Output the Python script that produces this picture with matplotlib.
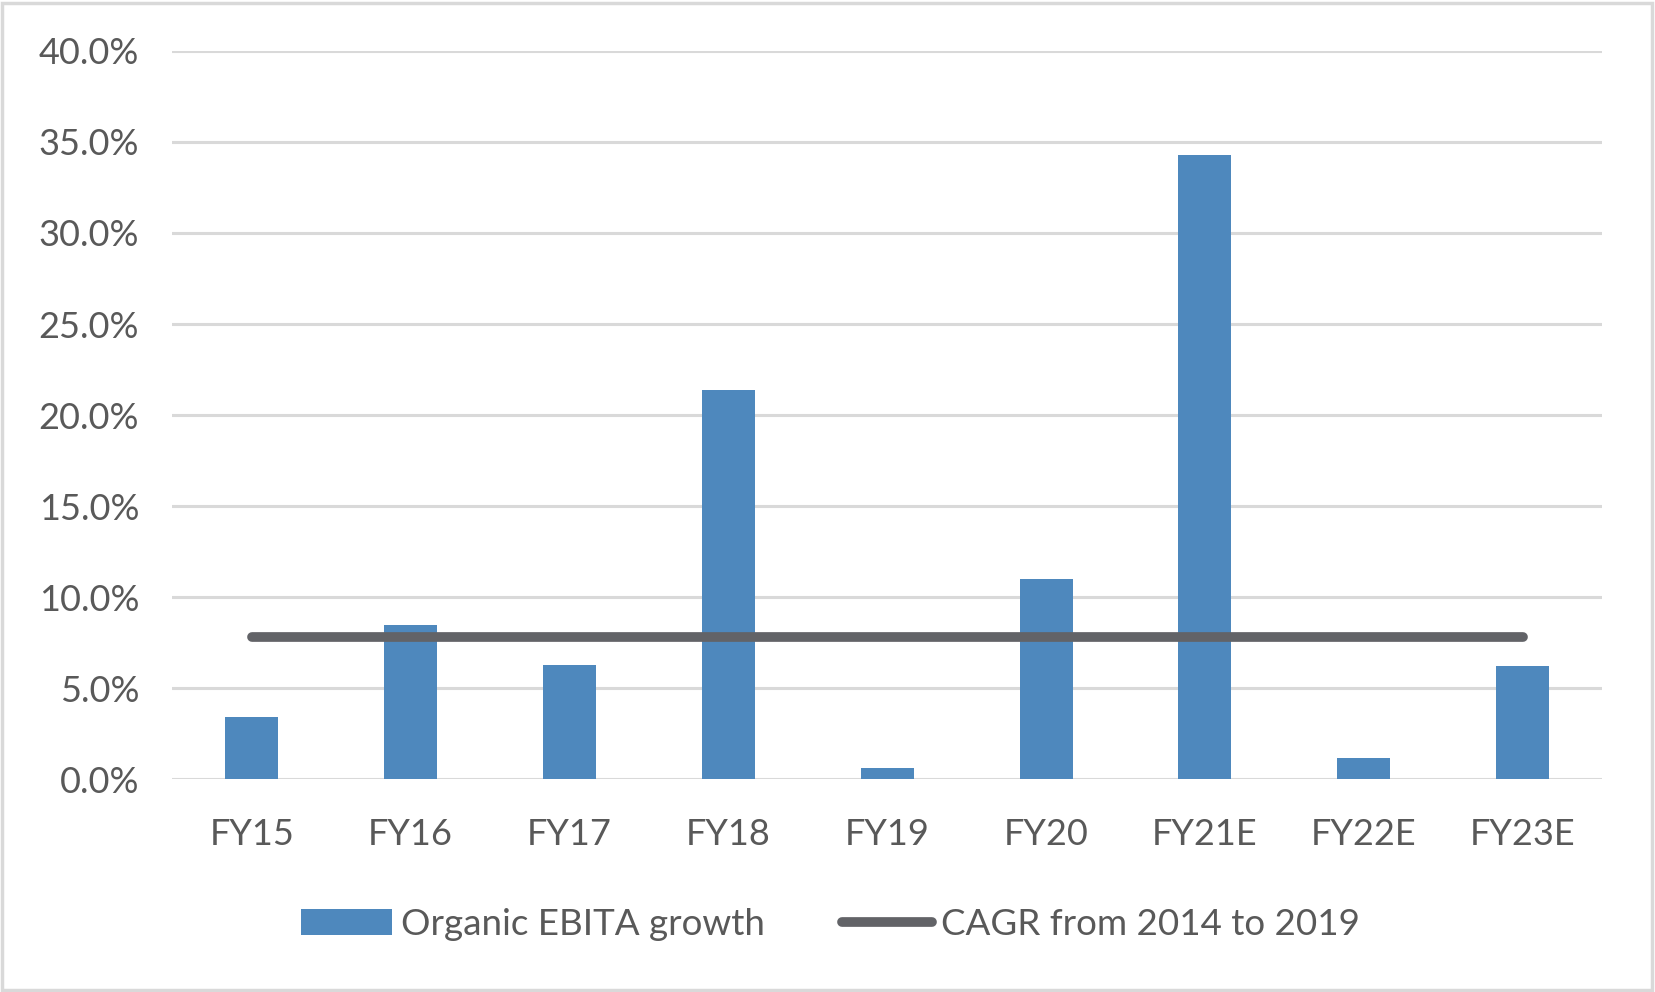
import numpy as np
import matplotlib.pyplot as plt
from matplotlib.ticker import FuncFormatter
from matplotlib.patches import Rectangle

# Dados
categorias = ["FY15", "FY16", "FY17", "FY18", "FY19", "FY20", "FY21E", "FY22E", "FY23E"]
crescimento = [3.4, 8.5, 6.3, 21.4, 0.6, 11.0, 34.3, 1.2, 6.2]
cagr = [7.8] * len(categorias)
yticks = [0, 5, 10, 15, 20, 25, 30, 35, 40]

azul = "#4e88bd"
cinza_linha = "#626367"
cinza_texto = "#595959"
cinza_grade = "#d9d9d9"

plt.rcParams["font.family"] = ["Lato", "DejaVu Sans"]

fig = plt.figure(figsize=(16.55, 9.92), dpi=100)
ax = fig.add_axes([0.1042, 0.2143, 0.8638, 0.7345])

x = np.arange(len(categorias))
barras = ax.bar(x, crescimento, width=0.333, color=azul, zorder=2, label="Organic EBITA growth")
linha, = ax.plot(x, cagr, color=cinza_linha, linewidth=7, solid_capstyle="round", zorder=3,
                 label="CAGR from 2014 to 2019")

ax.set_xlim(-0.5, len(categorias) - 0.5)
ax.set_ylim(0, 40)
ax.set_yticks(yticks)
ax.yaxis.set_major_formatter(FuncFormatter(lambda v, p: f"{v:.1f}%"))
ax.set_xticks(x)
ax.set_xticklabels(categorias)

ax.grid(axis="y", color=cinza_grade, linewidth=2.2, zorder=0)
for s in ax.spines.values():
    s.set_visible(False)
ax.tick_params(axis="both", length=0, labelsize=26, labelcolor=cinza_texto)
ax.tick_params(axis="y", pad=24)
ax.tick_params(axis="x", pad=28)

fig.legend([barras, linha], ["Organic EBITA growth", "CAGR from 2014 to 2019"],
           loc="center", bbox_to_anchor=(0.502, 0.068), ncol=2, frameon=False,
           fontsize=26.5, labelcolor=cinza_texto, handlelength=2.45, handleheight=0.7,
           handletextpad=0.25, columnspacing=2.1)

# Borda do gráfico
fig.patches.append(Rectangle((0.001, 0.002), 0.997, 0.995, transform=fig.transFigure,
                             fill=False, edgecolor=cinza_grade, linewidth=2.5))

fig.savefig("out.png", dpi=100)
